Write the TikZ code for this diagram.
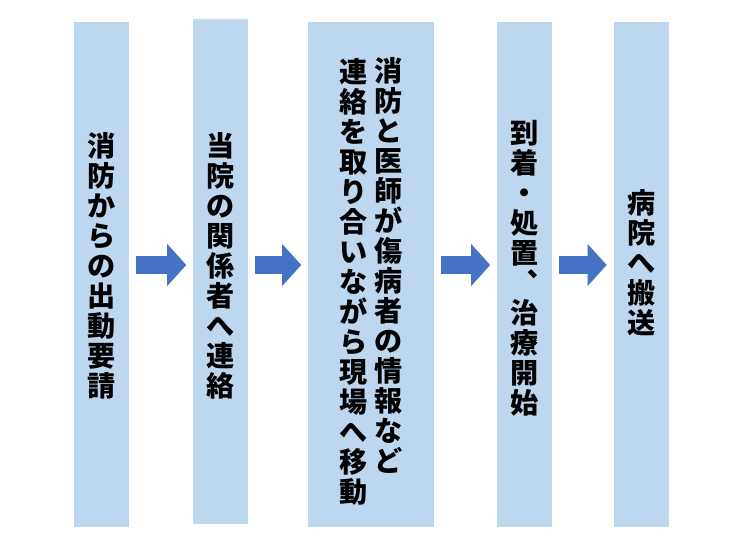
\documentclass[tikz,border=0pt]{standalone}
\usepackage{fontspec}
\newfontfamily\jpfont{Noto Sans CJK JP}
\usetikzlibrary{arrows.meta,positioning}
\newlength\px
\setlength\px{0.03cm}
\definecolor{colblue}{HTML}{BDD7EE}
\definecolor{arrowblue}{HTML}{4472C4}

\begin{document}
\begin{tikzpicture}[x=1\px, y=1\px, font=\jpfont\bfseries\fontsize{24pt}{25.6pt}\selectfont]

\tikzstyle{colbox} = [fill=colblue, inner sep=0, minimum width=55\px, minimum height=505\px]
\tikzstyle{tatebox} = [align=center, inner sep=0, text=black]
\tikzstyle{flow} = [arrowblue, line width=0.525cm, -{Triangle[length=0.57cm, width=1.26cm, line width=0pt]}, shorten <=0.195cm, shorten >=0.21cm]

\useasboundingbox (0,0) rectangle (743,552);

\node[colbox] (c1) at (101.5,277.5) {};
\node[colbox, right=64\px of c1, yshift=2.5\px] (c2) {};
\node[colbox, minimum width=125.5\px, right=59.5\px of c2, yshift=-2.5\px] (c3) {};
\node[colbox, right=63\px of c3] (c4) {};
\node[colbox, right=61\px of c4] (c5) {};

\node[tatebox] (t1) at ([yshift=9\px]c1.center) {消\\防\\か\\ら\\の\\出\\動\\要\\請};
\node[tatebox] (t2) at ([yshift=6\px]c2.center) {当\\院\\の\\関\\係\\者\\へ\\連\\絡};
\node[tatebox] (t3a) at ([xshift=17.25\px, yshift=9\px]c3.center) {消\\防\\と\\医\\師\\が\\傷\\病\\者\\の\\情\\報\\な\\ど};
\node[tatebox] (t3b) at ([xshift=-17.75\px, yshift=-7.5\px]c3.center) {連\\絡\\を\\取\\り\\合\\い\\な\\が\\ら\\現\\場\\へ\\移\\動};
\node[tatebox] (t4) at ([yshift=6\px]c4.center) {到\\着\\・\\処\\置\\︑\\治\\療\\開\\始};
\node[tatebox] (t5) at ([yshift=12\px]c5.center) {病\\院\\へ\\搬\\送};

\coordinate (row) at (0,287);
\draw[flow] (c1.east |- row) -- (c2.west |- row);
\draw[flow] (c2.east |- row) -- (c3.west |- row);
\draw[flow] (c3.east |- row) -- (c4.west |- row);
\draw[flow] (c4.east |- row) -- (c5.west |- row);

\end{tikzpicture}
\end{document}
